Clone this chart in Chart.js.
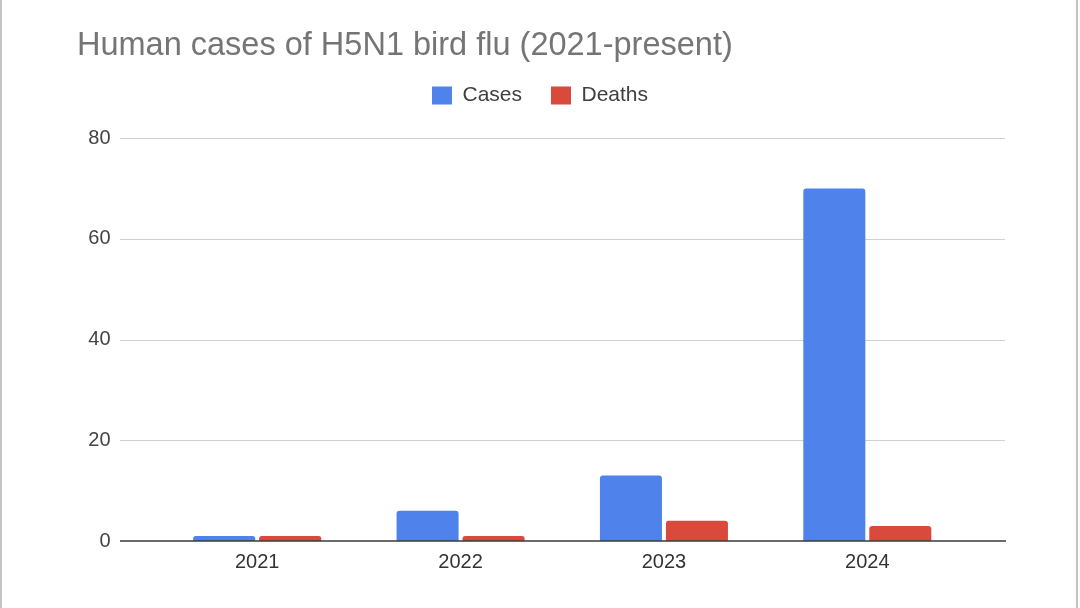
<!DOCTYPE html>
<html>
<head>
<meta charset="utf-8">
<script src="https://cdn.jsdelivr.net/npm/chart.js@4/dist/chart.umd.min.js"></script>
<style>
  html, body { margin: 0; padding: 0; background: #fff; }
  #wrap { width: 1080px; height: 608px; position: relative; }
  canvas { display: block; }
</style>
</head>
<body>
<div id="wrap"><canvas id="c" width="1080" height="608"></canvas></div>
<script>
const categories = ['2021', '2022', '2023', '2024'];
const casesValues = [1, 6, 13, 70];
const deathsValues = [1, 1, 4, 3];
const yTickValues = [0, 20, 40, 60, 80];
const chartTitle = 'Human cases of H5N1 bird flu (2021-present)';
const seriesNames = ['Cases', 'Deaths'];

const FONT = "'Liberation Sans', Arial, sans-serif";

const gridPlugin = {
  id: 'extGrid',
  beforeDraw(chart) {
    const ctx = chart.ctx;
    ctx.save();
    ctx.fillStyle = '#ffffff';
    ctx.fillRect(0, 0, chart.width, chart.height);
    ctx.restore();
  },
  beforeDatasetsDraw(chart) {
    const ctx = chart.ctx;
    const y = chart.scales.y;
    ctx.save();
    ctx.strokeStyle = '#d0d0d0';
    ctx.lineWidth = 1.2;
    y.ticks.forEach(t => {
      if (t.value === 0) return;
      const py = Math.round(y.getPixelForValue(t.value)) + 0.5;
      ctx.beginPath();
      ctx.moveTo(120, py);
      ctx.lineTo(1005, py);
      ctx.stroke();
    });
    ctx.restore();
  },
  afterDatasetsDraw(chart) {
    const ctx = chart.ctx;
    const y = chart.scales.y;
    const py = y.getPixelForValue(0);
    ctx.save();
    ctx.strokeStyle = '#3a3a3a';
    ctx.lineWidth = 1.6;
    ctx.beginPath();
    ctx.moveTo(120, py);
    ctx.lineTo(1006, py);
    ctx.stroke();
    ctx.restore();
  },
  afterDraw(chart) {
    const ctx = chart.ctx;
    ctx.save();
    ctx.fillStyle = '#c4c4c4';
    ctx.fillRect(0, 0, 2, chart.height);
    ctx.fillRect(1076, 0, 2, chart.height);
    ctx.restore();
  }
};

new Chart(document.getElementById('c'), {
  type: 'bar',
  data: {
    labels: categories,
    datasets: [
      {
        label: seriesNames[0],
        data: casesValues,
        backgroundColor: '#4f83eb',
        borderRadius: 3,
        categoryPercentage: 0.649,
        barPercentage: 0.94
      },
      {
        label: seriesNames[1],
        data: deathsValues,
        backgroundColor: '#d94a3c',
        borderRadius: 3,
        categoryPercentage: 0.649,
        barPercentage: 0.94
      }
    ]
  },
  options: {
    responsive: false,
    animation: false,
    devicePixelRatio: 1,
    layout: { padding: { left: 77, right: 77, top: 0, bottom: 0 } },
    plugins: {
      title: {
        display: true,
        text: chartTitle,
        align: 'start',
        color: '#757575',
        font: { family: FONT, size: 32.5, weight: 'normal', lineHeight: 1.2 },
        padding: { top: 26.8, bottom: -9.8 }
      },
      subtitle: {
        display: true,
        text: '',
        weight: 500,
        font: { family: FONT, size: 10, lineHeight: 1 },
        padding: { top: 12, bottom: 0 }
      },
      legend: {
        display: true,
        position: 'top',
        align: 'center',
        labels: {
          color: '#404040',
          font: { family: FONT, size: 21 },
          boxWidth: 20,
          boxHeight: 18,
          padding: 29
        }
      },
      tooltip: { enabled: false }
    },
    scales: {
      x: {
        type: 'category',
        grid: { display: false, drawTicks: false },
        border: { display: false },
        ticks: {
          color: '#333333',
          font: { family: FONT, size: 20 },
          padding: 9,
          maxRotation: 0
        },
        afterFit(scale) { scale.height = 67; }
      },
      y: {
        min: 0,
        max: 80,
        afterBuildTicks(scale) { scale.ticks = yTickValues.map(v => ({ value: v })); },
        grid: { display: false, drawTicks: false },
        border: { display: false },
        ticks: {
          color: '#444444',
          font: { family: FONT, size: 20 },
          padding: 45
        },
        afterFit(scale) { scale.width = 78.5; }
      },
      y2: {
        position: 'right',
        display: true,
        grid: { display: false, drawTicks: false },
        border: { display: false },
        ticks: { display: false },
        afterFit(scale) { scale.width = 34; }
      }
    }
  },
  plugins: [gridPlugin]
});
</script>
</body>
</html>
